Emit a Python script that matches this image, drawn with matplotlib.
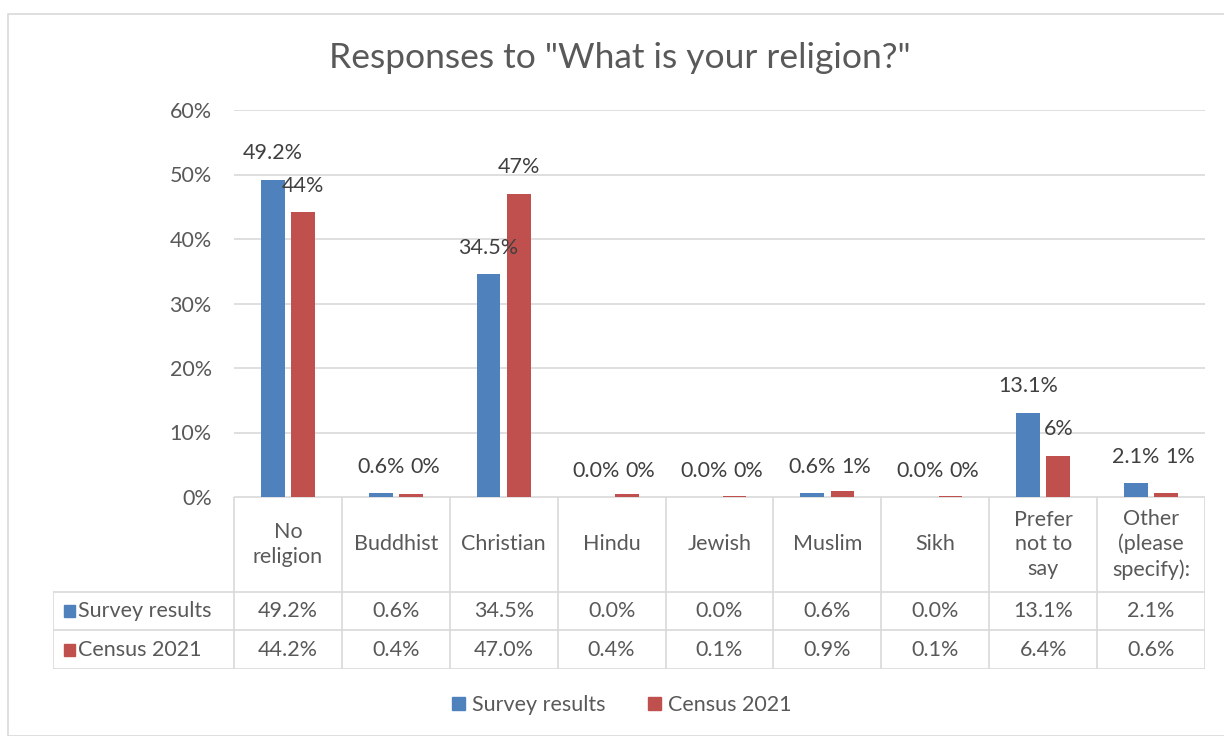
import matplotlib.pyplot as plt
from matplotlib.patches import Rectangle
from matplotlib.ticker import PercentFormatter

categories = ["No\nreligion", "Buddhist", "Christian", "Hindu", "Jewish",
              "Muslim", "Sikh", "Prefer\nnot to\nsay", "Other\n(please\nspecify):"]
survey = [49.2, 0.6, 34.5, 0.0, 0.0, 0.6, 0.0, 13.1, 2.1]
census = [44.2, 0.4, 47.0, 0.4, 0.1, 0.9, 0.1, 6.4, 0.6]
series_names = ["Survey results", "Census 2021"]

BLUE = "#4F81BD"
RED = "#C0504D"
TXT = "#595959"
GRID = "#D9D9D9"
FONT = ["Lato", "DejaVu Sans"]
FS = 15.5

plt.rcParams["font.family"] = FONT

W, H = 1224, 736
fig = plt.figure(figsize=(W / 100, H / 100), dpi=100)

# outer chart border
fig.patches.append(Rectangle((8 / W, 0), 1.2, 1 - 14 / H, transform=fig.transFigure,
                             fill=False, edgecolor="#D9D9D9", linewidth=1.2))

# main plot area (pixel coords converted to figure fractions)
left_px, right_px, top_px, base_px = 234, 1205, 110, 497
ax = fig.add_axes([left_px / W, 1 - base_px / H, (right_px - left_px) / W,
                   (base_px - top_px) / H])

n = len(categories)
x = list(range(n))
bw = 0.22
off = 0.14
ax.bar([i - off for i in x], survey, width=bw, color=BLUE, zorder=3)
ax.bar([i + off for i in x], census, width=bw, color=RED, zorder=3)

for i in x:
    s_lab = ax.annotate(f"{survey[i]:.1f}%", (i - off, survey[i]), xytext=(0, 19),
                        textcoords="offset points", ha="center", va="center",
                        fontsize=FS, color="#404040")
    if survey[i] < 3 and census[i] < 3:
        # small bars: put the census label just right of the survey label
        ax.annotate(f"{census[i]:.0f}%", (1, 0.5), xycoords=s_lab, xytext=(4, 0),
                    textcoords="offset points", ha="left", va="center",
                    fontsize=FS, color="#404040")
    else:
        ax.annotate(f"{census[i]:.0f}%", (i + off, census[i]), xytext=(0, 19),
                    textcoords="offset points", ha="center", va="center",
                    fontsize=FS, color="#404040")

ax.set_xlim(-0.5, n - 0.5)
ax.set_ylim(0, 60)
ax.set_yticks(range(0, 61, 10))
ax.yaxis.set_major_formatter(PercentFormatter(decimals=0))
ax.set_xticks([])
ax.tick_params(axis="y", length=0, pad=16, labelsize=FS, labelcolor=TXT)
ax.grid(axis="y", color=GRID, linewidth=1.2, zorder=0)
for s in ax.spines.values():
    s.set_visible(False)

fig.text(620 / W, 1 - 58 / H, 'Responses to "What is your religion?"', fontsize=25.5,
         color=TXT, ha="center", va="center")

# data table below the plot
tab_left_px, tab_bottom_px = 53, 669
rows_px = [0, 95, 133, 172]  # offsets from the base line
tax = fig.add_axes([tab_left_px / W, 1 - tab_bottom_px / H,
                    (right_px - tab_left_px) / W, (tab_bottom_px - base_px) / H])
cat_w = (right_px - left_px) / n
lab_start = -0.5 - (left_px - tab_left_px) / cat_w
tax.set_xlim(lab_start, n - 0.5)
tax.set_ylim(rows_px[-1], 0)
tax.axis("off")

lw = 1.2
# horizontal lines
tax.plot([-0.5, n - 0.5], [0, 0], color=GRID, lw=lw)
for y in rows_px[1:]:
    tax.plot([lab_start, n - 0.5], [y, y], color=GRID, lw=lw)
# vertical lines
for i in range(n + 1):
    tax.plot([i - 0.5, i - 0.5], [0, rows_px[-1]], color=GRID, lw=lw)
tax.plot([lab_start, lab_start], [rows_px[1], rows_px[-1]], color=GRID, lw=lw)

for i, c in enumerate(categories):
    tax.text(i, rows_px[1] / 2, c, ha="center", va="center", fontsize=FS,
             color=TXT, linespacing=1.3)
    tax.text(i, (rows_px[1] + rows_px[2]) / 2, f"{survey[i]:.1f}%", ha="center",
             va="center", fontsize=FS, color=TXT)
    tax.text(i, (rows_px[2] + rows_px[3]) / 2, f"{census[i]:.1f}%", ha="center",
             va="center", fontsize=FS, color=TXT)

for r, (name, col) in enumerate(zip(series_names, [BLUE, RED])):
    yc = (rows_px[r + 1] + rows_px[r + 2]) / 2
    tax.add_patch(Rectangle((lab_start + 0.1, yc - 6), 0.105, 12, color=col))
    tax.text(lab_start + 0.23, yc, name, ha="left", va="center",
             fontsize=FS, color=TXT)

# legend
handles = [Rectangle((0, 0), 1, 1, color=BLUE), Rectangle((0, 0), 1, 1, color=RED)]
fig.legend(handles, series_names, loc="center", bbox_to_anchor=(0.508, 1 - 705 / H),
           ncol=2, frameon=False, fontsize=FS, labelcolor=TXT,
           handlelength=0.6, handleheight=0.6, handletextpad=0.3, columnspacing=2.0)

fig.savefig("out.png", dpi=100)
